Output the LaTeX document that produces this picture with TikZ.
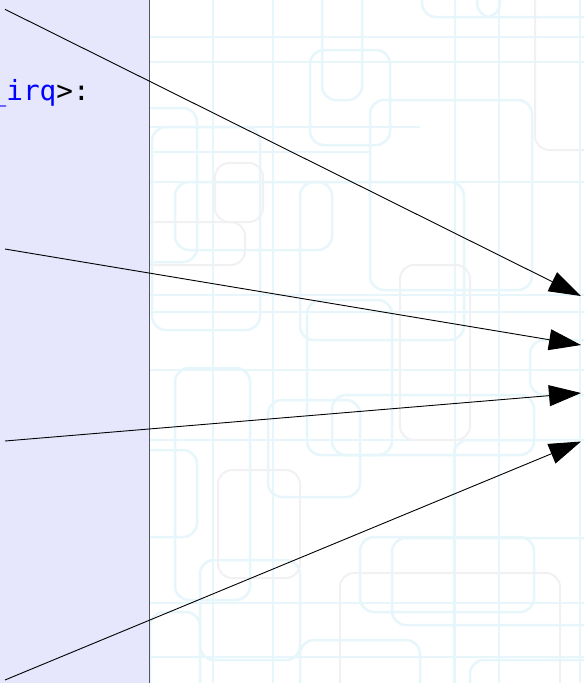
\documentclass[tikz,border=0pt]{standalone}
\usepackage{fontspec}
\newfontfamily\codefont{DejaVu Sans Mono}
\usetikzlibrary{arrows.meta}
\definecolor{panelfill}{RGB}{230,230,252}
\definecolor{panelline}{RGB}{85,85,95}
\definecolor{patcyan}{RGB}{231,246,251}
\definecolor{patgray}{RGB}{241,241,244}
\definecolor{codeblue}{RGB}{0,0,255}
\tikzset{
  patline/.style={draw=patcyan, line width=2.5pt},
  patrect/.style={draw=patcyan, line width=2.5pt, rounded corners=14pt},
  patgrect/.style={draw=patgray, line width=2pt, rounded corners=14pt},
  edge/.style={draw=black, line width=0.9pt, -{Triangle[length=32pt,width=21pt]}},
  codetext/.style={anchor=base west, inner sep=0pt, text=codeblue,
    font=\codefont\fontsize{27.7}{33}\selectfont},
}
\begin{document}
\begin{tikzpicture}[x=1pt,y=-1pt]
\useasboundingbox (0,0) rectangle (584,683);
\clip (0,0) rectangle (584,683);
\fill[white] (0,0) rectangle (584,683);
% background pattern
\begin{scope}
\clip (149,0) rectangle (584,683);
\foreach \x in {213,273,455,499,580} \draw[patline] (\x,-5) -- (\x,690);
\foreach \y in {37,62,182,312,440,657} \draw[patline] (140,\y) -- (590,\y);
\draw[patline] (140,127) -- (420,127);
\draw[patline] (140,152) -- (370,152);
\draw[patline] (140,295) -- (584,295);
\draw[patline] (140,370) -- (584,370);
\draw[patline] (140,603) -- (584,603);
\draw[patrect] (175,182) rectangle (332,250);
\draw[patrect] (120,108) rectangle (197,262);
\draw[patrect] (152,127) rectangle (260,330);
\draw[patrect] (310,50) rectangle (390,145);
\draw[patrect] (322,-30) rectangle (362,100);
\draw[patrect] (370,100) rectangle (532,290);
\draw[patrect] (300,182) rectangle (464,340);
\draw[patrect] (477,-30) rectangle (620,17);
\draw[patrect] (422,-50) rectangle (500,17);
\draw[patrect] (120,450) rectangle (197,537);
\draw[patrect] (175,368) rectangle (250,600);
\draw[patrect] (268,400) rectangle (360,497);
\draw[patrect] (307,300) rectangle (392,455);
\draw[patrect] (332,395) rectangle (534,455);
\draw[patrect] (360,537) rectangle (534,612);
\draw[patrect] (392,538) rectangle (620,625);
\draw[patrect] (454,440) rectangle (620,720);
\draw[patrect] (300,640) rectangle (420,720);
\draw[patrect] (470,660) rectangle (620,720);
\draw[patrect] (530,340) rectangle (620,395);
\draw[patrect] (200,560) rectangle (300,660);
\draw[patrect] (150,612) rectangle (200,720);
\draw[patgrect] (215,163) rectangle (263,222);
\draw[patgrect] (130,222) rectangle (245,265);
\draw[patgrect] (400,265) rectangle (470,440);
\draw[patgrect] (218,470) rectangle (300,578);
\draw[patgrect] (340,573) rectangle (560,720);
\draw[patgrect] (535,-20) rectangle (620,150);
\end{scope}
% left panel
\draw[fill=panelfill, draw=panelline, line width=1pt] (-5,-5) rectangle (149,690);
\node[codetext] (lbl) at (-10.5,100) {\_irq\textcolor{black}{>:}};
% connectors
\coordinate (s1) at (5,9.3);
\coordinate (s2) at (5,249);
\coordinate (s3) at (5,441);
\coordinate (s4) at (5,680);
\coordinate (t1) at (581,296);
\coordinate (t2) at (581,345);
\coordinate (t3) at (581,393);
\coordinate (t4) at (581,441.5);
\draw[edge] (s1) -- (t1);
\draw[edge] (s2) -- (t2);
\draw[edge] (s3) -- (t3);
\draw[edge] (s4) -- (t4);
\end{tikzpicture}
\end{document}
